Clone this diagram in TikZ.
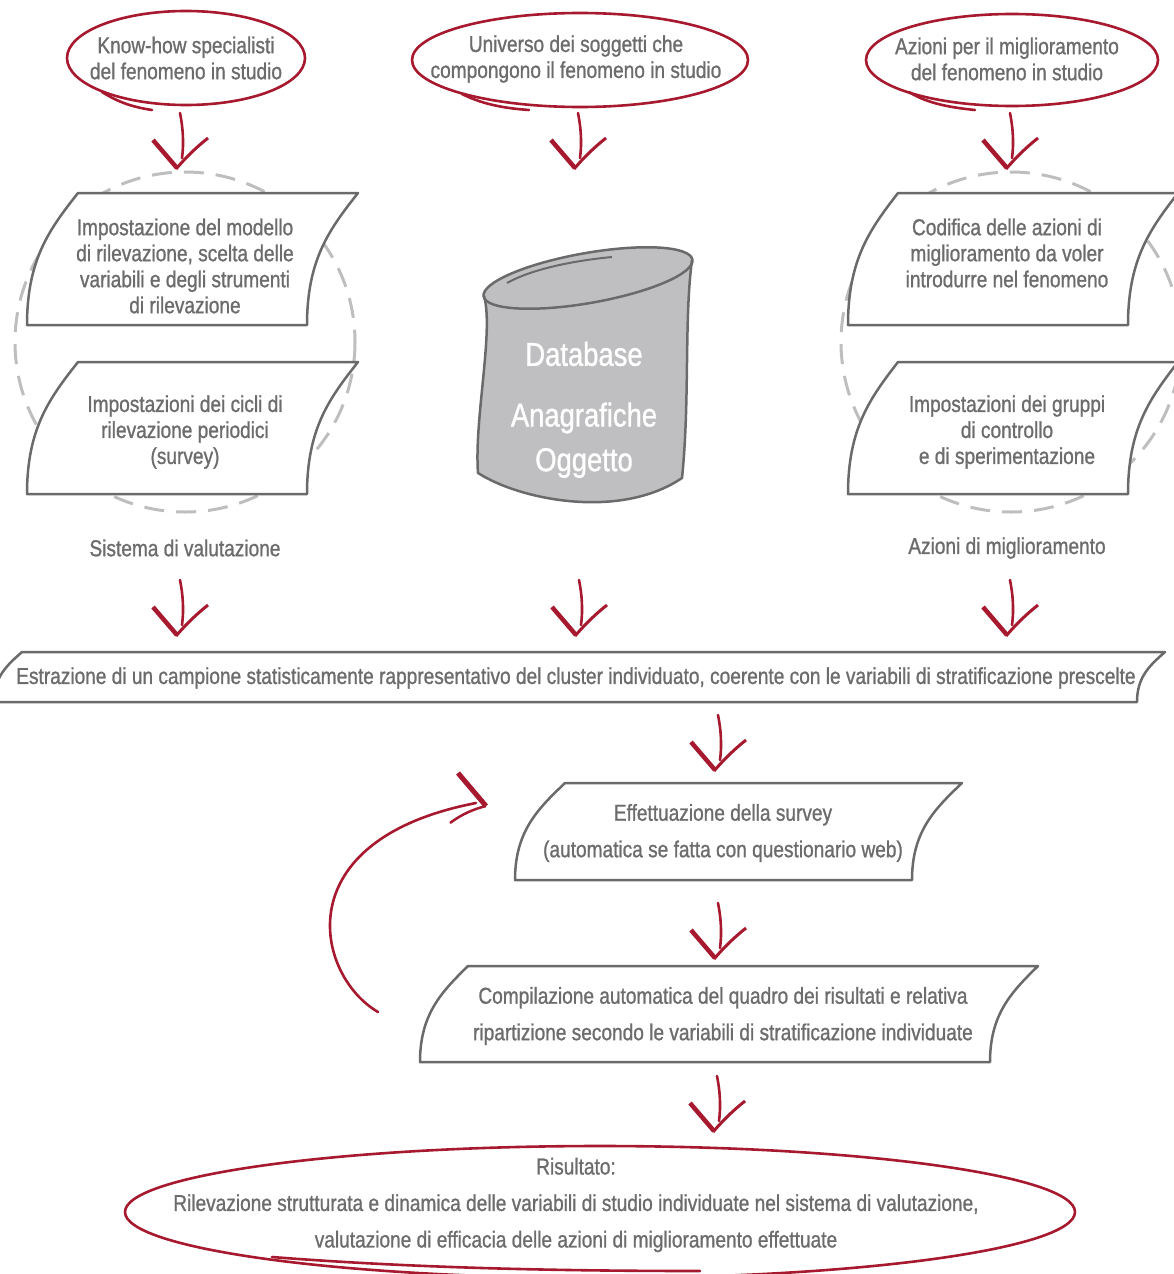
\documentclass[tikz,border=0pt]{standalone}
\usepackage{fontspec}
\setmainfont{Liberation Sans}[FakeStretch=0.83,FakeBold=1]
\definecolor{myred}{HTML}{A6192E}
\definecolor{txtgray}{HTML}{6C6C6C}
\definecolor{linegray}{HTML}{6A6A6A}
\definecolor{dashgray}{HTML}{BEBEBE}
\definecolor{dbfill}{HTML}{BFBFC1}
\newcommand\cardpath[5]{%
  (#1,#3) .. controls (#1,{#3-0.5*(#3-#2)}) and ({#1+0.45*#5},{#2+0.27*(#3-#2)}) .. ({#1+#5},#2)
  -- ({#1+#5+#4},#2) .. controls ({#1+#4+0.45*#5},{#2+0.27*(#3-#2)}) and ({#1+#4},{#3-0.5*(#3-#2)}) .. ({#1+#4},#3)
  -- cycle}
\tikzset{
  lbl/.style={text=txtgray, font=\fontsize{23}{26}\selectfont, align=center, inner sep=0pt},
  lblwide/.style={text=txtgray, font=\fontsize{23}{36.5}\selectfont, align=center, inner sep=0pt},
  dbtext/.style={text=white, font=\fontsize{33}{40}\selectfont, inner sep=0pt},
  card/.style={draw=linegray, line width=2.5pt, fill=white, line join=round},
  redline/.style={draw=myred, line width=2.6pt, line cap=round},
  dashcirc/.style={draw=dashgray, line width=3pt, dash pattern=on 20pt off 12pt},
  varr/.pic={
    \draw[myred, line width=2.6pt, line cap=round] (0,0) .. controls (3,15) and (4,30) .. (2,45);
    \draw[myred, line width=4.5pt] (-27,27) -- (-3,55);
    \draw[myred, line width=3pt] (-4,56) .. controls (8,42) and (18,33) .. (28,25);
  }
}
\begin{document}
\begin{tikzpicture}[x=1pt,y=-1pt]
\useasboundingbox (0,0) rectangle (1174,1274);
\clip (0,0) rectangle (1174,1274);

% top ellipses
\node[lbl] (e1) at (186,58) {Know-how specialisti\\del fenomeno in studio};
\draw[redline] (e1.center) ellipse [x radius=119, y radius=47];
\draw[redline] (102,92) .. controls (118,102) and (132,107) .. (152,110);

\node[lbl] (e2) at (576,59) {Universo dei soggetti che\\compongono il fenomeno in studio};
\draw[redline] (580,60) ellipse [x radius=168, y radius=47];
\draw[redline] (462,94) .. controls (480,103) and (500,108) .. (529,110);

\node[lbl] (e3) at (1007,59) {Azioni per il miglioramento\\del fenomeno in studio};
\draw[redline] (1012,60) ellipse [x radius=146, y radius=46];
\draw[redline] (909,92) .. controls (925,102) and (945,107) .. (975,110);

% arrows row 1
\pic at (180,113) {varr};
\pic at (578,113) {varr};
\pic at (1010,113) {varr};

% dashed circles
\draw[dashcirc] (185,342) circle [radius=170];
\draw[dashcirc] (1011,342) circle [radius=170];

% left cards
\draw[card] \cardpath{27}{193}{325}{280}{51};
\node[lbl] (l1) at (185,266) {Impostazione del modello\\di rilevazione, scelta delle\\variabili e degli strumenti\\di rilevazione};
\draw[card] \cardpath{27}{362}{494}{280}{51};
\node[lbl] (l2) at (185,432) {Impostazioni dei cicli di\\rilevazione periodici\\(survey)};

% right cards
\draw[card] \cardpath{848}{193}{325}{280}{50};
\node[lbl] (r1) at (1007,253) {Codifica delle azioni di\\miglioramento da voler\\introdurre nel fenomeno};
\draw[card] \cardpath{848}{362}{494}{280}{50};
\node[lbl] (r2) at (1007,432) {Impostazioni dei gruppi\\di controllo\\e di sperimentazione};

% database
\fill[dbfill] (484,296) .. controls (494,330) and (474,420) .. (478,473)
  .. controls (520,500) and (620,520) .. (682,478)
  .. controls (690,400) and (684,320) .. (692,260) -- cycle;
\fill[dbfill, rotate around={10:(588,278)}] (588,278) ellipse [x radius=106, y radius=25];
\draw[linegray, line width=2.5pt, line join=round] (484,296) .. controls (494,330) and (474,420) .. (478,473)
  .. controls (520,500) and (620,520) .. (682,478)
  .. controls (690,400) and (684,320) .. (692,260);
\draw[linegray, line width=2.5pt, rotate around={10:(588,278)}] (588,278) ellipse [x radius=106, y radius=25];
\draw[linegray, line width=2pt] (507,283) .. controls (530,270) and (570,261) .. (612,257);
\node[dbtext] (db1) at (584,354) {Database};
\node[dbtext] (db2) at (584,418) {Anagrafiche};
\node[dbtext] (db3) at (584,463) {Oggetto};

% labels
\node[lbl] (s1) at (185,548) {Sistema di valutazione};
\node[lbl] (s2) at (1007,548) {Azioni di miglioramento};

% arrows row 2
\pic at (180,580) {varr};
\pic at (579,580) {varr};
\pic at (1010,580) {varr};

% wide card
\draw[card] \cardpath{-6}{652}{702}{1143}{28};
\node[lbl] (w) at (576,678) {Estrazione di un campione statisticamente rappresentativo del cluster individuato, coerente con le variabili di stratificazione prescelte};

\pic at (718,715) {varr};

% survey
\draw[card] \cardpath{515}{783}{880}{397}{50};
\node[lblwide] (sv) at (723,833) {Effettuazione della survey\\(automatica se fatta con questionario web)};

\pic at (718,903) {varr};

% compilazione
\draw[card] \cardpath{420}{966}{1062}{570}{48};
\node[lblwide] (cp) at (723,1016) {Compilazione automatica del quadro dei risultati e relativa\\ripartizione secondo le variabili di stratificazione individuate};

\pic at (717,1076) {varr};

% return arrow
\coordinate (ra) at (378,1012);
\coordinate (rb) at (476,803);
\draw[redline] (ra) .. controls (315,975) and (285,840) .. (rb);
\draw[myred, line width=5pt] (458,773) -- (486,806);
\draw[myred, line width=2.5pt] (450,823) .. controls (462,814) and (474,809) .. (486,806);

% result ellipse
\node[lblwide] (res) at (576,1205) {Risultato:\\Rilevazione strutturata e dinamica delle variabili di studio individuate nel sistema di valutazione,\\valutazione di efficacia delle azioni di miglioramento effettuate};
\draw[redline] (600,1212) ellipse [x radius=475, y radius=66];
\draw[redline] (272,1257) .. controls (400,1267) and (540,1271) .. (700,1271);
\end{tikzpicture}
\end{document}
